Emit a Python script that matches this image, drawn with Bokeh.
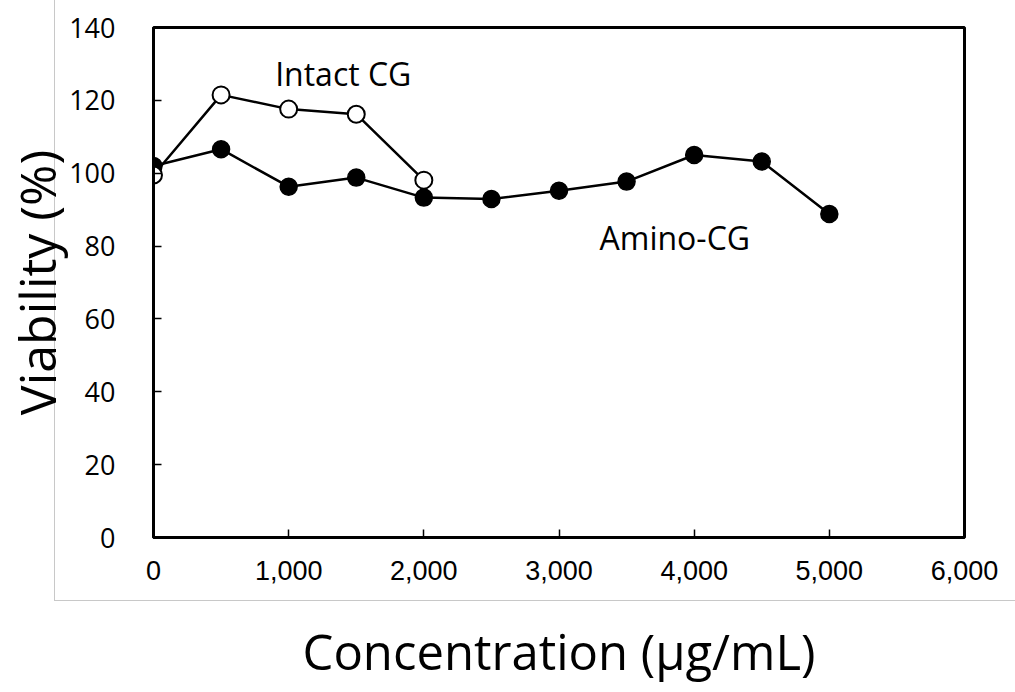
from bokeh.plotting import figure
from bokeh.models import Label, FixedTicker, NumeralTickFormatter
from bokeh.embed import file_html
from bokeh.resources import INLINE

# Data
conc_amino = [0, 500, 1000, 1500, 2000, 2500, 3000, 3500, 4000, 4500, 5000]
viab_amino = [102.0, 106.6, 96.3, 98.8, 93.3, 92.9, 95.2, 97.7, 105.0, 103.2, 88.8]
conc_intact = [0, 500, 1000, 1500, 2000]
viab_intact = [99.5, 121.5, 117.6, 116.2, 98.1]
x_ticks = [0, 1000, 2000, 3000, 4000, 5000, 6000]
y_ticks = [0, 20, 40, 60, 80, 100, 120, 140]
x_title = "Concentration (\u03bcg/mL)"
y_title = "Viability (%)"

FONT = "Open Sans"
GRAY = "#c8c8c8"

p = figure(width=1015, height=692, output_backend="svg", toolbar_location=None,
           x_range=(0, 6000), y_range=(0, 140),
           min_border_left=153, min_border_right=51, min_border_top=27, min_border_bottom=155)
p.grid.grid_line_color = None
p.outline_line_color = "black"
p.outline_line_width = 3
p.background_fill_color = "white"
p.border_fill_color = None

# faint gray frame of the whole chart area (page styling behind the transparent canvas)
p.styles = {
    "background-color": "white",
    "background-image": f"linear-gradient({GRAY}, {GRAY}), linear-gradient({GRAY}, {GRAY})",
    "background-size": "1px 601px, 961px 1px",
    "background-position": "54px 0px, 54px 600px",
    "background-repeat": "no-repeat",
}

for ax in (p.xaxis[0], p.yaxis[0]):
    ax.axis_line_color = "black"
    ax.axis_line_width = 3
    ax.major_tick_in = 8
    ax.major_tick_out = 0
    ax.major_tick_line_width = 1.5
    ax.minor_tick_line_color = None
    ax.major_label_text_color = "black"
    ax.axis_label_text_font = FONT
    ax.axis_label_text_font_style = "normal"
    ax.axis_label_text_color = "black"

p.xaxis.ticker = FixedTicker(ticks=x_ticks)
p.xaxis.formatter = NumeralTickFormatter(format="0,0")
p.xaxis.major_label_text_font = "Liberation Sans"
p.xaxis.major_label_text_font_size = "27px"
p.xaxis.major_label_standoff = 23
p.xaxis.axis_label = x_title
p.xaxis.axis_label_text_font_size = "49px"
p.xaxis.axis_label_standoff = 35

p.yaxis.ticker = FixedTicker(ticks=y_ticks)
p.yaxis.major_label_text_font = FONT
p.yaxis.major_label_text_font_size = "27px"
p.yaxis.major_label_standoff = 38
p.yaxis.axis_label = y_title
p.yaxis.axis_label_text_font_size = "50px"
p.yaxis.axis_label_standoff = -5

# Amino-CG (filled)
p.line(conc_amino, viab_amino, line_color="black", line_width=2.5)
p.scatter(conc_amino, viab_amino, size=17, fill_color="black", line_color="black", line_width=1.5)

# Intact CG (open)
p.line(conc_intact, viab_intact, line_color="black", line_width=2.5)
p.scatter(conc_intact, viab_intact, size=17, fill_color="white", line_color="black", line_width=2)

p.add_layout(Label(x=900, y=127.3, text="Intact CG", text_font=FONT, text_font_size="32px",
                   text_baseline="middle", text_color="black"))
p.add_layout(Label(x=3300, y=82.4, text="Amino-CG", text_font=FONT, text_font_size="32px",
                   text_baseline="middle", text_color="black"))

open("out.html", "w").write(file_html(p, INLINE))
